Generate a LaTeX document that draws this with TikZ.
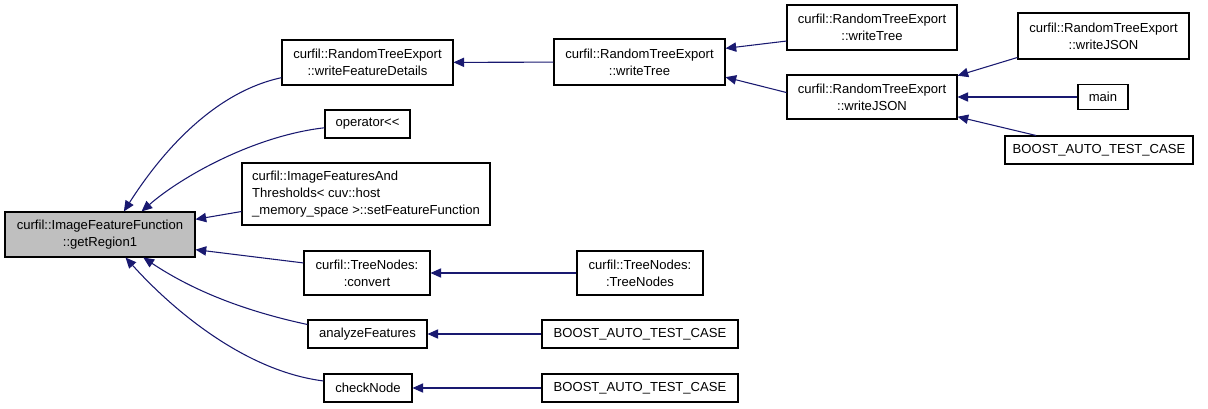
\documentclass[tikz,border=0pt]{standalone}
\usepackage{fontspec}
\setmainfont{Liberation Sans}
\usepackage{xcolor}
\usetikzlibrary{shapes,arrows,positioning,calc,arrows.meta}
\definecolor{edgeblue}{HTML}{191970}
\definecolor{rootgray}{HTML}{BFBFBF}

\tikzset{
    fn/.style={draw=black, line width=0.8pt, fill=white, align=center, inner sep=2pt,
               font=\fontsize{9.8}{12.75}\selectfont},
    call/.style={draw=edgeblue, line width=0.8pt, -{Triangle[length=8pt,width=7pt]}}
}

\begin{document}
\begin{tikzpicture}[x=0.75pt, y=-0.75pt]
    \useasboundingbox (0,0) rectangle (1208,408);

    % called function
    \node[fn, fill=rootgray, minimum width=142.5pt, minimum height=33.75pt] (root) at (100,234.5) {curfil::ImageFeatureFunction\\::getRegion1};

    % direct callers
    \node[fn, minimum width=128.25pt, minimum height=33.75pt] (wfd) at (367.5,62.5) {curfil::RandomTreeExport\\::writeFeatureDetails};
    \node[fn, minimum width=63.75pt, minimum height=21pt] (op) at (367.5,124) {operator<{}<};
    \node[fn, align=left, minimum width=186pt, minimum height=46.5pt] (ifat) at (366,194) {curfil::ImageFeaturesAnd\\Thresholds< cuv::host\\\_memory\_space >::setFeatureFunction};
    \node[fn, minimum width=94.5pt, minimum height=33pt] (conv) at (367,273) {curfil::TreeNodes:\\:convert};
    \node[fn, minimum width=89.25pt, minimum height=21pt] (af) at (367.5,334) {analyzeFeatures};
    \node[fn, minimum width=66pt, minimum height=21pt] (cn) at (368,388) {checkNode};

    % second level
    \node[fn, minimum width=128.25pt, minimum height=34.5pt] (wt) at (639.5,62) {curfil::RandomTreeExport\\::writeTree};
    \node[fn, minimum width=94.5pt, minimum height=33pt] (tn) at (640,273) {curfil::TreeNodes:\\:TreeNodes};
    \node[fn, minimum width=147pt, minimum height=21pt] (bt1) at (640,334) {BOOST\_AUTO\_TEST\_CASE};
    \node[fn, minimum width=147pt, minimum height=21pt] (bt2) at (640,388) {BOOST\_AUTO\_TEST\_CASE};

    % third level
    \node[fn, minimum width=127.5pt, minimum height=33.75pt] (wt2) at (872,27.5) {curfil::RandomTreeExport\\::writeTree};
    \node[fn, minimum width=127.5pt, minimum height=33pt] (wj) at (872,97) {curfil::RandomTreeExport\\::writeJSON};

    % fourth level
    \node[fn, minimum width=128.25pt, minimum height=34.5pt] (wj2) at (1103.5,36) {curfil::RandomTreeExport\\::writeJSON};
    \node[fn, minimum width=37.5pt, minimum height=18.75pt] (main) at (1103,97) {main};
    \node[fn, minimum width=141pt, minimum height=21pt] (bt3) at (1099,150) {BOOST\_AUTO\_TEST\_CASE};

    % calls into the root
    \draw[call] (wfd.190) .. controls +(-70,15) and +(35,-55) .. (root.44);
    \draw[call] (op.185) .. controls +(-70,8) and +(40,-35) .. (root.29);
    \draw[call] (ifat.188) -- (root.9);
    \draw[call] (conv.171) -- (root.-9);
    \draw[call] (af.171) .. controls +(-70,-15) and +(45,30) .. (root.-28);
    \draw[call] (cn.171) .. controls +(-80,-10) and +(45,50) .. (root.-42);

    % straight calls
    \foreach \from/\to in {wt/wfd, tn/conv, bt1/af, bt2/cn, main/wj} {
        \draw[call] (\from) -- (\to);
    }
    \draw[call] (wt2.189) -- (wt.9);
    \draw[call] (wj.177) -- (wt.-10);
    \draw[call] (wj2.194) -- (wj.14);
    \draw[call] (bt3.167) -- (wj.-13);
\end{tikzpicture}
\end{document}
